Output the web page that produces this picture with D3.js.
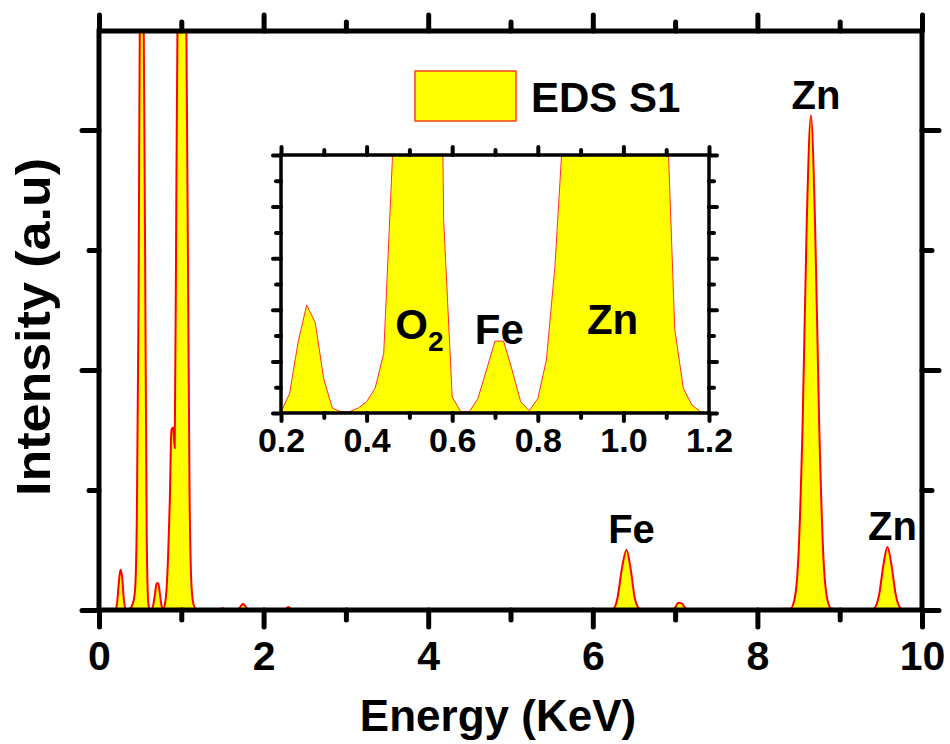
<!DOCTYPE html>
<html><head><meta charset="utf-8">
<script src="https://cdn.jsdelivr.net/npm/d3@7"></script>
<style>
body{margin:0;background:#fff;}
text{font-family:"Liberation Sans",Arial,sans-serif;font-weight:bold;fill:#000;}
</style></head>
<body><svg id="c" width="950" height="744"></svg>
<script>
// ---- data ----
const energy = [0,0.18,0.20,0.22,0.24,0.26,0.28,0.30,0.32,0.34,0.36,0.38,0.40,0.42,0.44,0.46,0.48,0.50,0.52,0.54,0.56,0.58,0.60,0.62,0.64,0.66,0.68,0.70,0.72,0.74,0.76,0.78,0.80,0.82,0.84,0.86,0.88,0.90,0.92,0.94,0.96,0.98,1.00,1.02,1.04,1.06,1.08,1.10,1.12,1.14,1.16,1.18,1.20,1.45,1.50,1.55,1.68,1.75,1.82,2.25,2.30,2.35,3.65,3.70,3.75,6.20,6.25,6.30,6.35,6.41,6.46,6.51,6.56,6.62,6.96,7.00,7.04,7.08,7.12,7.17,8.40,8.45,8.50,8.55,8.60,8.65,8.70,8.75,8.80,8.85,8.90,9.38,9.43,9.48,9.53,9.58,9.63,9.68,9.73,9.78,10.0];
const intensity = [0,0,0.004,0.06,0.22,0.335,0.28,0.105,0.015,0.004,0.004,0.015,0.035,0.077,0.185,0.78,2.5,5.5,6.2,5.2,3.0,0.6,0.05,0.004,0.004,0.045,0.133,0.223,0.223,0.133,0.035,0.007,0.045,0.164,0.454,0.9,1.5,1.52,1.35,3.5,5.5,7.0,7.5,7.2,6.5,5.0,3.0,1.0,0.26,0.077,0.025,0.004,0,0,0.015,0,0,0.05,0,0,0.025,0,0,0.008,0,0,0.01,0.1,0.33,0.5,0.34,0.1,0.015,0,0,0.02,0.06,0.055,0.02,0,0.01,0.087,0.47,1.57,3.24,4.12,3.24,1.57,0.47,0.087,0.01,0,0.023,0.13,0.37,0.525,0.37,0.13,0.023,0,0];
const xMajor = [0,2,4,6,8,10];
const xMinor = [1,3,5,7,9];
const yMajor = [0,2,4];
const yMinor = [1,3];
const insetXMajor = [0.2,0.4,0.6,0.8,1.0,1.2];
const insetXMinor = [0.3,0.5,0.7,0.9,1.1];
const insetYMajor = [0,0.16,0.32,0.48,0.64,0.8];
const insetYMinor = [0.08,0.24,0.40,0.56,0.72];
const peakLabels = [{t:"Zn",e:8.65,v:4.12},{t:"Fe",e:6.41,v:0.5},{t:"Zn",e:9.58,v:0.525}];
const legendLabel = "EDS S1";

const data = energy.map((e,i)=>({e, v:intensity[i]}));
const svg = d3.select("#c");

// ---- main plot ----
const L=99,R=922,T=31,B=610;
const x = d3.scaleLinear().domain([0,10]).range([L,R]);
const y = d3.scaleLinear().domain([0,4.825]).range([B,T]);

svg.append("clipPath").attr("id","mclip").append("rect").attr("x",L).attr("y",T).attr("width",R-L).attr("height",B-T);
const area = d3.area().x(d=>x(d.e)).y0(y(0)).y1(d=>y(d.v)).curve(d3.curveMonotoneX);
const line = d3.line().x(d=>x(d.e)).y(d=>y(d.v)).curve(d3.curveMonotoneX);
const mg = svg.append("g").attr("clip-path","url(#mclip)");
mg.append("path").datum(data).attr("d",area).attr("fill","#ffff00");
mg.append("path").datum(data).attr("d",line).attr("fill","none").attr("stroke","#ff0000").attr("stroke-width",2);

function styleAxis(g,w){
  g.select(".domain").remove();
  g.selectAll(".tick line").attr("stroke","#000").attr("stroke-width",w).attr("stroke-linecap","round");
}
// bottom
let g = svg.append("g").attr("transform",`translate(0,${B})`).call(d3.axisBottom(x).tickValues(xMajor).tickSize(17).tickFormat(d3.format("d")));
styleAxis(g,5);
g.selectAll(".tick text").attr("y",60).attr("dy",0).style("font-size","41px");
g = svg.append("g").attr("transform",`translate(0,${B})`).call(d3.axisBottom(x).tickValues(xMinor).tickSize(10).tickFormat(""));
styleAxis(g,5);
// top
g = svg.append("g").attr("transform",`translate(0,${T})`).call(d3.axisTop(x).tickValues(xMajor).tickSize(16).tickFormat(""));
styleAxis(g,5);
g = svg.append("g").attr("transform",`translate(0,${T})`).call(d3.axisTop(x).tickValues(xMinor).tickSize(9).tickFormat(""));
styleAxis(g,5);
// left
g = svg.append("g").attr("transform",`translate(${L},0)`).call(d3.axisLeft(y).tickValues(yMajor).tickSize(17).tickFormat(""));
styleAxis(g,5);
g = svg.append("g").attr("transform",`translate(${L},0)`).call(d3.axisLeft(y).tickValues(yMinor).tickSize(10).tickFormat(""));
styleAxis(g,5);
// right
g = svg.append("g").attr("transform",`translate(${R},0)`).call(d3.axisRight(y).tickValues(yMajor).tickSize(17).tickFormat(""));
styleAxis(g,5);
g = svg.append("g").attr("transform",`translate(${R},0)`).call(d3.axisRight(y).tickValues(yMinor).tickSize(10).tickFormat(""));
styleAxis(g,5);
svg.append("rect").attr("x",L).attr("y",T).attr("width",R-L).attr("height",B-T).attr("fill","none").attr("stroke","#000").attr("stroke-width",5);

// titles
svg.append("text").attr("x",498).attr("y",731).attr("text-anchor","middle").style("font-size","44px").text("Energy (KeV)");
svg.append("text").attr("transform","translate(50,327) rotate(-90)").attr("text-anchor","middle").style("font-size","48px")
  .attr("textLength",338).attr("lengthAdjust","spacingAndGlyphs").text("Intensity (a.u)");

// peak labels
peakLabels.forEach(p=>{
  svg.append("text").attr("x",x(p.e)+5).attr("y",y(p.v)-7).attr("text-anchor","middle").style("font-size","40px").text(p.t);
});

// legend
svg.append("rect").attr("x",415).attr("y",71).attr("width",101).attr("height",50).attr("fill","#ffff00").attr("stroke","#ff4020").attr("stroke-width",1.5);
svg.append("text").attr("x",531).attr("y",112).style("font-size","42px").text(legendLabel);

// ---- inset ----
const iL=281,iR=709,iT=155,iB=413;
const ix = d3.scaleLinear().domain([0.2,1.2]).range([iL,iR]);
const iy = d3.scaleLinear().domain([0,0.8]).range([iB,iT]);
svg.append("rect").attr("x",iL).attr("y",iT).attr("width",iR-iL).attr("height",iB-iT).attr("fill","#fff");
svg.append("clipPath").attr("id","iclip").append("rect").attr("x",iL).attr("y",iT).attr("width",iR-iL).attr("height",iB-iT);
const idata = data.filter(d=>d.e>=0.2&&d.e<=1.2);
const iarea = d3.area().x(d=>ix(d.e)).y0(iy(0)).y1(d=>iy(d.v));
const iline = d3.line().x(d=>ix(d.e)).y(d=>iy(d.v));
const ig = svg.append("g").attr("clip-path","url(#iclip)");
ig.append("path").datum(idata).attr("d",iarea).attr("fill","#ffff00");
ig.append("path").datum(idata).attr("d",iline).attr("fill","none").attr("stroke","#ff3030").attr("stroke-width",1);

g = svg.append("g").attr("transform",`translate(0,${iB})`).call(d3.axisBottom(ix).tickValues(insetXMajor).tickSize(8).tickFormat(d3.format(".1f")));
styleAxis(g,4);
g.selectAll(".tick text").attr("y",39).attr("dy",0).style("font-size","34px");
g = svg.append("g").attr("transform",`translate(0,${iB})`).call(d3.axisBottom(ix).tickValues(insetXMinor).tickSize(5).tickFormat(""));
styleAxis(g,4);
g = svg.append("g").attr("transform",`translate(0,${iT})`).call(d3.axisTop(ix).tickValues(insetXMajor).tickSize(8).tickFormat(""));
styleAxis(g,4);
g = svg.append("g").attr("transform",`translate(0,${iT})`).call(d3.axisTop(ix).tickValues(insetXMinor).tickSize(5).tickFormat(""));
styleAxis(g,4);
g = svg.append("g").attr("transform",`translate(${iL},0)`).call(d3.axisLeft(iy).tickValues(insetYMajor).tickSize(8).tickFormat(""));
styleAxis(g,4);
g = svg.append("g").attr("transform",`translate(${iL},0)`).call(d3.axisLeft(iy).tickValues(insetYMinor).tickSize(5).tickFormat(""));
styleAxis(g,4);
g = svg.append("g").attr("transform",`translate(${iR},0)`).call(d3.axisRight(iy).tickValues(insetYMajor).tickSize(8).tickFormat(""));
styleAxis(g,4);
g = svg.append("g").attr("transform",`translate(${iR},0)`).call(d3.axisRight(iy).tickValues(insetYMinor).tickSize(5).tickFormat(""));
styleAxis(g,4);
svg.append("rect").attr("x",iL).attr("y",iT).attr("width",iR-iL).attr("height",iB-iT).attr("fill","none").attr("stroke","#000").attr("stroke-width",3.5);

// inset labels
const o2 = svg.append("text").attr("x",ix(0.5)+10).attr("y",339).attr("text-anchor","middle").style("font-size","42px");
o2.append("tspan").text("O");
o2.append("tspan").attr("dy",12).style("font-size","28px").text("2");
svg.append("text").attr("x",ix(0.71)).attr("y",344).attr("text-anchor","middle").style("font-size","42px").text("Fe");
svg.append("text").attr("x",ix(0.97)+2).attr("y",334).attr("text-anchor","middle").style("font-size","42px").text("Zn");
</script></body></html>
